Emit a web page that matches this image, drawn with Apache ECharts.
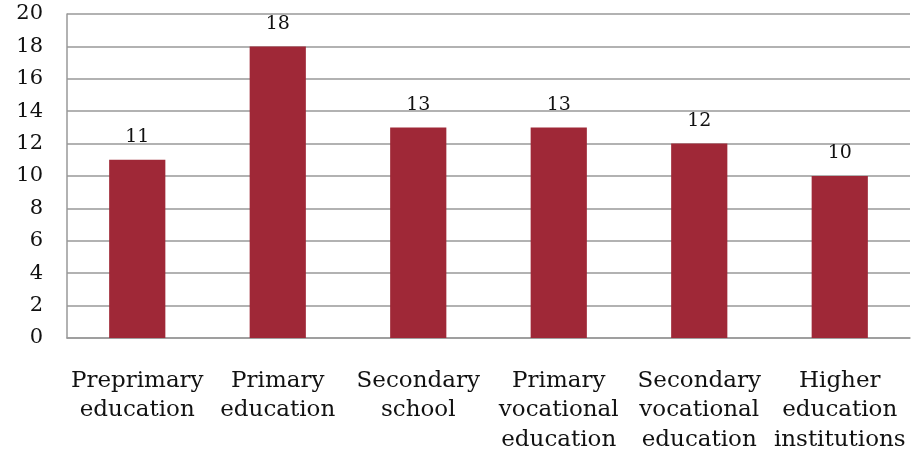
<!DOCTYPE html>
<html>
<head>
<meta charset="utf-8">
<script src="https://cdn.jsdelivr.net/npm/echarts@6/dist/echarts.min.js"></script>
<style>
  html, body { margin: 0; padding: 0; background: #fff; }
  #main { width: 911px; height: 451px; }
</style>
</head>
<body>
<div id="main"></div>
<script>
var categories = ['Preprimary\neducation', 'Primary\neducation', 'Secondary\nschool',
                  'Primary\nvocational\neducation', 'Secondary\nvocational\neducation',
                  'Higher\neducation\ninstitutions'];
var values = [11, 18, 13, 13, 12, 10];

var font = 'DejaVu Serif';
var myChart = echarts.init(document.getElementById('main'));
var option = {
    animation: false,
    grid: { left: 67, right: 1, top: 14, bottom: 113, outerBoundsMode: 'none' },
    xAxis: {
        type: 'category',
        data: categories,
        axisLine: { lineStyle: { color: '#999', width: 1.5 } },
        axisTick: { show: false },
        axisLabel: {
            margin: 28,
            interval: 0,
            color: '#111',
            fontFamily: font,
            fontSize: 23,
            lineHeight: 29.5,
            verticalAlign: 'top'
        }
    },
    yAxis: {
        type: 'value',
        min: 0,
        max: 20,
        interval: 2,
        axisLine: { show: true, lineStyle: { color: '#999', width: 1.5 } },
        axisTick: { show: false },
        splitLine: { lineStyle: { color: '#999', width: 1.5 } },
        axisLabel: {
            margin: 24,
            color: '#111',
            fontFamily: font,
            fontSize: 21
        }
    },
    series: [{
        type: 'bar',
        data: values,
        barWidth: '40%',
        itemStyle: { color: '#9f2837' },
        label: {
            show: true,
            position: 'top',
            distance: 13,
            color: '#111',
            fontFamily: font,
            fontSize: 19
        }
    }]
};
myChart.setOption(option);
</script>
</body>
</html>
